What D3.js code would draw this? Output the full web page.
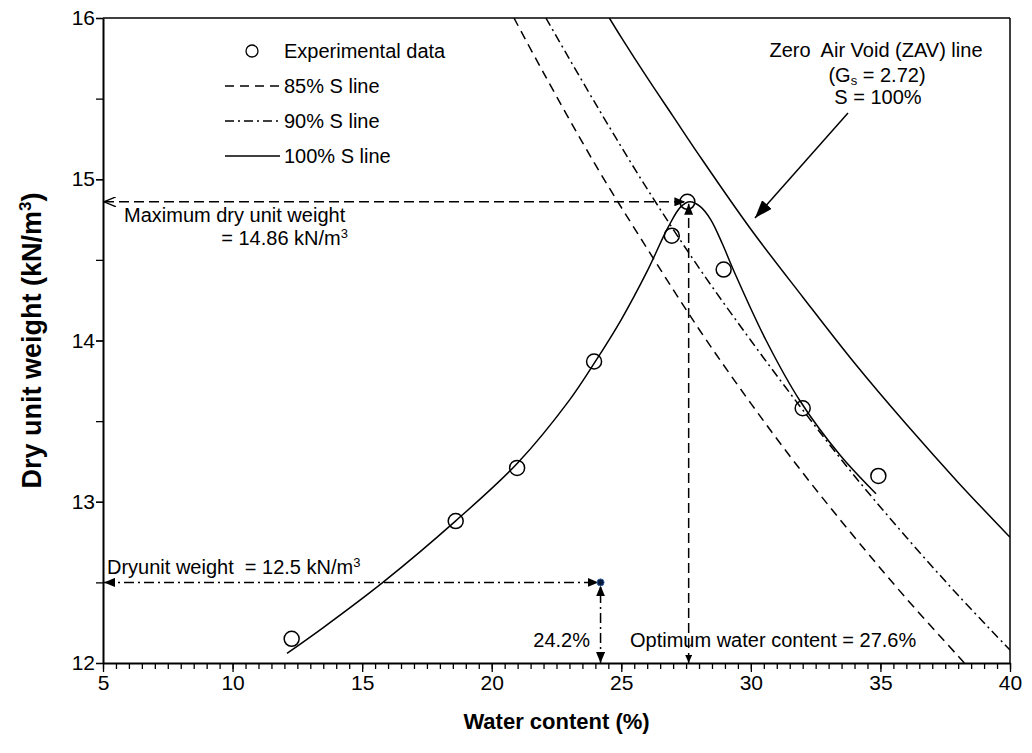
<!DOCTYPE html>
<html><head><meta charset="utf-8">
<script src="https://cdn.jsdelivr.net/npm/d3@7"></script>
<style>
body{margin:0;background:#fff}
text{font-family:"Liberation Sans",Arial,Helvetica,sans-serif;fill:#000;white-space:pre}
</style>
</head><body>
<svg id="c" width="1032" height="753"></svg>
<script>
// ---- data ----
const expW = [12.28, 18.61, 20.98, 23.95, 26.95, 27.55, 28.95, 32.0, 34.92];
const expG = [12.15, 12.88, 13.21, 13.87, 14.65, 14.86, 14.44, 13.58, 13.16];

const fitW = [12.1, 13.5, 15.8, 18.6, 21.0, 23.0, 24.0, 25.0, 26.0, 26.8, 27.3, 27.65, 28.05, 28.45, 28.9, 29.32, 30.59, 31.9, 33.44, 34.83];
const fitG = [12.06, 12.22, 12.50, 12.88, 13.24, 13.63, 13.87, 14.13, 14.43, 14.70, 14.83, 14.86, 14.83, 14.75, 14.60, 14.44, 14.00, 13.625, 13.29, 13.05];

const s100W = [24.54, 25, 26, 27, 28, 30, 32, 34, 36, 38, 40];
const s100G = [16.0, 15.88, 15.63, 15.39, 15.15, 14.69, 14.27, 13.86, 13.48, 13.12, 12.78];

const s90W = [22.09, 24, 26, 28, 30, 32, 34, 36, 38, 40];
const s90G = [16.0, 15.47, 14.94, 14.45, 14.00, 13.57, 13.16, 12.78, 12.42, 12.08];

const s85W = [20.86, 22, 24, 26, 28, 30, 32, 34, 36, 38.24];
const s85G = [16.0, 15.66, 15.09, 14.57, 14.07, 13.61, 13.18, 12.78, 12.40, 12.0];

const xTicks = [5, 10, 15, 20, 25, 30, 35, 40];
const yTicks = [12, 13, 14, 15, 16];

const maxDry = 14.86, optW = 27.6;
const targetG = 12.5, targetW = 24.2;

const legendLabels = ["Experimental data", "85% S line", "90% S line", "100% S line"];

// ---- layout ----
const svg = d3.select("#c");
const L = 103, R = 1010, T = 18, B = 663;
const x = d3.scaleLinear().domain([5, 40]).range([L, R]);
const y = d3.scaleLinear().domain([12, 16]).range([B, T]);
const FS = 20;

const defs = svg.append("defs");
defs.append("clipPath").attr("id", "clip").append("rect")
  .attr("x", L).attr("y", T).attr("width", R - L).attr("height", B - T);
function marker(id, w, h, filled) {
  const m = defs.append("marker").attr("id", id)
    .attr("viewBox", `0 0 ${w} ${h}`).attr("refX", w).attr("refY", h / 2)
    .attr("markerWidth", w).attr("markerHeight", h)
    .attr("markerUnits", "userSpaceOnUse").attr("orient", "auto-start-reverse");
  if (filled) m.append("path").attr("d", `M0,0L${w},${h/2}L0,${h}Z`).attr("fill", "#000");
  else m.append("path").attr("d", `M0,0L${w},${h/2}L0,${h}`).attr("fill", "none").attr("stroke", "#000").attr("stroke-width", 1.3);
}
marker("af", 11, 9, true);
marker("afs", 8, 7, true);
marker("ao", 12, 10, false);
marker("abig", 18, 13, true);

// ---- curves ----
const g = svg.append("g").attr("clip-path", "url(#clip)");
const line = d3.line().x(d => x(d[0])).y(d => y(d[1])).curve(d3.curveCatmullRom);
function series(W, G, dash) {
  g.append("path").datum(W.map((w, i) => [w, G[i]])).attr("d", line)
    .attr("fill", "none").attr("stroke", "#000").attr("stroke-width", 1.5)
    .attr("stroke-dasharray", dash);
}
series(s85W, s85G, "9,6");
series(s90W, s90G, "9,4,2,4");
series(s100W, s100G, null);
series(fitW, fitG, null);

// ---- annotations ----
const ann = svg.append("g").attr("stroke", "#000").attr("stroke-width", 1.5).attr("fill", "none");
ann.append("line").attr("x1", x(5) + 1).attr("x2", x(27.55) - 2).attr("y1", y(maxDry)).attr("y2", y(maxDry))
  .attr("stroke-dasharray", "10,5").attr("marker-start", "url(#ao)").attr("marker-end", "url(#af)");
ann.append("line").attr("x1", x(optW)).attr("x2", x(optW)).attr("y1", y(12)).attr("y2", y(maxDry) + 2)
  .attr("stroke-dasharray", "10,5").attr("marker-start", "url(#afs)").attr("marker-end", "url(#af)");
ann.append("line").attr("x1", x(5) + 1).attr("x2", x(targetW) - 2).attr("y1", y(targetG)).attr("y2", y(targetG))
  .attr("stroke-dasharray", "10,4,2,4").attr("marker-start", "url(#af)").attr("marker-end", "url(#af)");
ann.append("line").attr("x1", x(targetW)).attr("x2", x(targetW)).attr("y1", y(12)).attr("y2", y(targetG) + 3)
  .attr("stroke-dasharray", "10,4,2,4").attr("marker-start", "url(#af)").attr("marker-end", "url(#af)");
ann.append("line").attr("x1", 848).attr("y1", 113).attr("x2", 755).attr("y2", 218)
  .attr("marker-end", "url(#abig)");
svg.append("circle").attr("cx", x(targetW)).attr("cy", y(targetG)).attr("r", 3.5)
  .attr("fill", "#0a1a3a").attr("stroke", "#2b5fa8").attr("stroke-width", 1);

// ---- experimental points ----
svg.append("g").selectAll("circle").data(expW.map((w, i) => [w, expG[i]])).join("circle")
  .attr("cx", d => x(d[0])).attr("cy", d => y(d[1])).attr("r", 7.5)
  .attr("fill", "none").attr("stroke", "#000").attr("stroke-width", 1.5);

// ---- axes ----
const minorY = d3.range(12, 16.01, 0.5);
const minorX = d3.range(5, 40.01, 0.5);
const ax = svg.append("g");
ax.append("g").attr("transform", `translate(0,${B})`)
  .call(d3.axisBottom(x).tickValues(minorX).tickSize(6).tickFormat(""))
  .call(s => s.select(".domain").remove());
ax.append("g").attr("transform", `translate(0,${B})`)
  .call(d3.axisBottom(x).tickValues(xTicks).tickSize(9).tickSizeOuter(0).tickPadding(3).tickFormat(d3.format("d")))
  .call(s => s.select(".domain").attr("stroke-width", 2));
ax.append("g").attr("transform", `translate(${L},0)`)
  .call(d3.axisLeft(y).tickValues(minorY).tickSize(7).tickFormat(""))
  .call(s => s.select(".domain").remove());
ax.append("g").attr("transform", `translate(${L},0)`)
  .call(d3.axisLeft(y).tickValues(yTicks).tickSize(7).tickSizeOuter(0).tickPadding(1).tickFormat(d3.format("d")))
  .call(s => s.select(".domain").attr("stroke-width", 2));
ax.selectAll(".tick line").attr("stroke", "#000").attr("stroke-width", 1.3);
ax.selectAll(".tick text").attr("font-size", 21).attr("font-family", '"Liberation Sans",Arial,sans-serif');
svg.append("line").attr("x1", L).attr("x2", R).attr("y1", T).attr("y2", T).attr("stroke", "#000").attr("stroke-width", 1.5);
svg.append("line").attr("x1", R).attr("x2", R).attr("y1", T).attr("y2", B).attr("stroke", "#000").attr("stroke-width", 1.5);

// ---- titles ----
svg.append("text").attr("x", (L + R) / 2).attr("y", 729).attr("text-anchor", "middle")
  .attr("font-size", 22).attr("font-weight", "bold").text("Water content (%)");
const yt = svg.append("text").attr("transform", `translate(41,${(T + B) / 2}) rotate(-90)`)
  .attr("text-anchor", "middle").attr("font-size", 27).attr("font-weight", "bold");
yt.append("tspan").text("Dry unit weight (kN/m");
yt.append("tspan").attr("font-size", 17).attr("dy", -10).text("3");
yt.append("tspan").attr("dy", 10).text(")");

// ---- legend ----
const lg = svg.append("g");
lg.append("circle").attr("cx", 252).attr("cy", 51).attr("r", 6).attr("fill", "none").attr("stroke", "#000").attr("stroke-width", 1.3);
const lgDash = ["9,6", "9,4,2,4", null];
[86, 121, 156].forEach((yy, i) => {
  lg.append("line").attr("x1", 225).attr("x2", 280).attr("y1", yy).attr("y2", yy)
    .attr("stroke", "#000").attr("stroke-width", 1.3).attr("stroke-dasharray", lgDash[i]);
});
[51, 86, 121, 156].forEach((yy, i) => {
  lg.append("text").attr("x", 284).attr("y", yy + 7).attr("font-size", FS).text(legendLabels[i]);
});

// ---- text annotations ----
function t(xx, yy, s, anchor) {
  return svg.append("text").attr("x", xx).attr("y", yy).attr("font-size", FS)
    .attr("text-anchor", anchor || "start").text(s);
}
t(876, 57, "Zero  Air Void (ZAV) line", "middle");
const gs = svg.append("text").attr("x", 877).attr("y", 82).attr("font-size", FS).attr("text-anchor", "middle");
gs.append("tspan").text("(G");
gs.append("tspan").attr("font-size", 13).attr("dy", 3).text("s");
gs.append("tspan").attr("dy", -3).text(" = 2.72)");
t(878, 104, "S = 100%", "middle");

t(124, 222, "Maximum dry unit weight");
const m1 = svg.append("text").attr("x", 348).attr("y", 245).attr("font-size", FS).attr("text-anchor", "end");
m1.append("tspan").text("= 14.86 kN/m");
m1.append("tspan").attr("font-size", 13).attr("dy", -7).text("3");

const d1 = svg.append("text").attr("x", 107).attr("y", 574).attr("font-size", FS);
d1.append("tspan").text("Dryunit weight  = 12.5 kN/m");
d1.append("tspan").attr("font-size", 13).attr("dy", -7).text("3");

t(590, 647, "24.2%", "end");
t(630, 647, "Optimum water content = 27.6%");
</script>
</body></html>
